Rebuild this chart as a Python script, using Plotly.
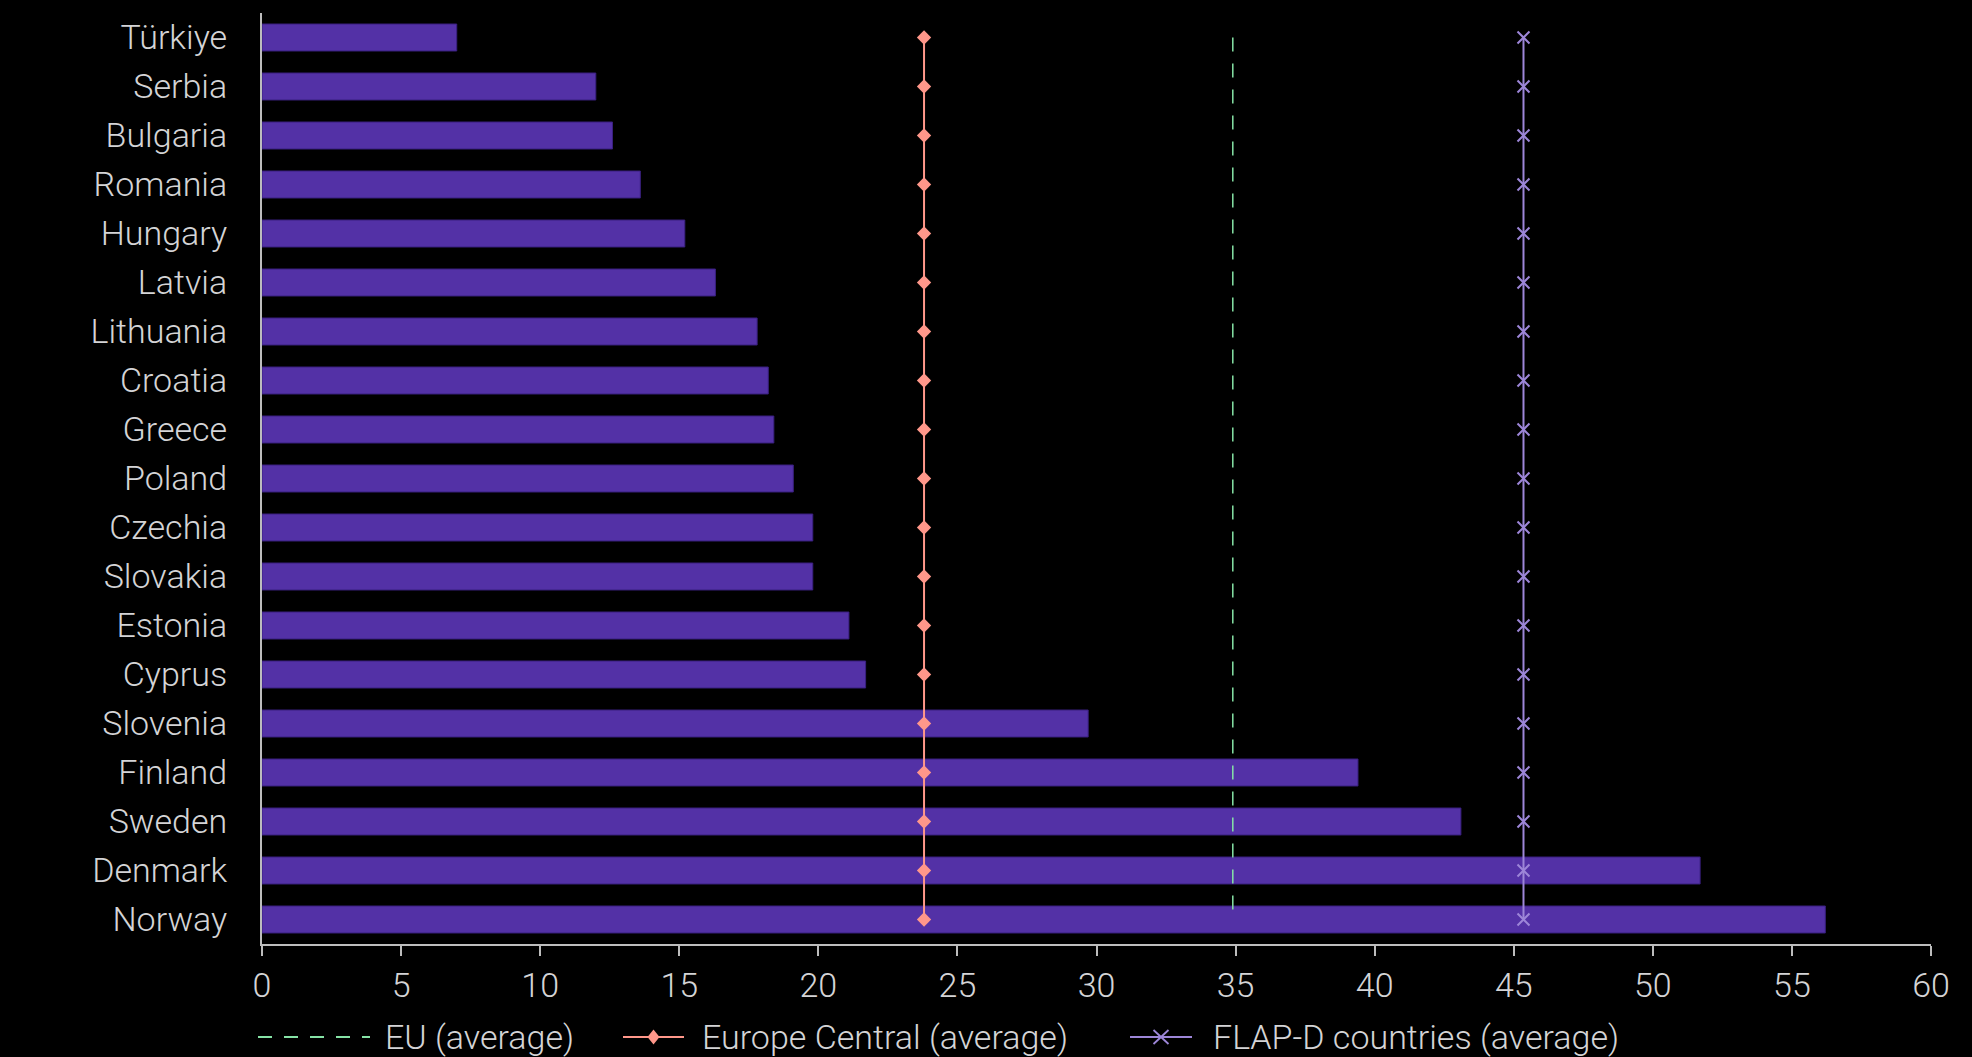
import plotly.graph_objects as go

# Countries, top to bottom
countries = [
    "Türkiye", "Serbia", "Bulgaria", "Romania", "Hungary", "Latvia",
    "Lithuania", "Croatia", "Greece", "Poland", "Czechia", "Slovakia",
    "Estonia", "Cyprus", "Slovenia", "Finland", "Sweden", "Denmark", "Norway",
]
values = [
    7.0, 12.0, 12.6, 13.6, 15.2, 16.3,
    17.8, 18.2, 18.4, 19.1, 19.8, 19.8,
    21.1, 21.7, 29.7, 39.4, 43.1, 51.7, 56.2,
]

# Reference averages
eu_average = 34.9
europe_central_average = 23.8
flapd_average = 45.35

x_ticks = [0, 5, 10, 15, 20, 25, 30, 35, 40, 45, 50, 55, 60]

FONT = "Roboto, 'Liberation Sans', sans-serif"
FONT_SIZE = 34
TEXT_COLOR = "#d4d4d6"
AXIS_COLOR = "#bdbdbd"

BAR_COLOR = "#5331a6"
EU_COLOR = "#86e3a6"
EC_COLOR = "#ff978a"
FLAPD_COLOR = "#9d86d8"
DASH = "14px,12px"

# Figure geometry (pixels)
W, H = 1972, 1057
M_L, M_R, M_T, M_B = 262, 41, 13, 113
PLOT_W = W - M_L - M_R
PLOT_H = H - M_T - M_B

fig = go.Figure()

fig.add_trace(go.Bar(
    y=countries,
    x=values,
    orientation="h",
    marker=dict(color=BAR_COLOR, line=dict(color="#3a2080", width=1)),
    showlegend=False,
    hoverinfo="x+y",
))

fig.add_trace(go.Scatter(
    y=countries,
    x=[eu_average] * len(countries),
    mode="lines",
    name="EU (average)",
    line=dict(color=EU_COLOR, width=1.5, dash=DASH),
    showlegend=False,
))

fig.add_trace(go.Scatter(
    y=countries,
    x=[europe_central_average] * len(countries),
    mode="lines+markers",
    name="Europe Central (average)",
    line=dict(color=EC_COLOR, width=2),
    marker=dict(symbol="diamond", size=11, color=EC_COLOR),
    showlegend=False,
))

fig.add_trace(go.Scatter(
    y=countries,
    x=[flapd_average] * len(countries),
    mode="lines+markers",
    name="FLAP-D countries (average)",
    line=dict(color=FLAPD_COLOR, width=2),
    marker=dict(symbol="x-thin-open", size=12,
                line=dict(color=FLAPD_COLOR, width=2)),
    showlegend=False,
))


# Legend drawn below the axis: sample line, glyph and label per series
def px_x(px):
    return (px - M_L) / PLOT_W


def px_y(py):
    return (H - M_B - py) / PLOT_H


legend_y = 1037
legend_items = [
    # name, colour, dash, glyph path, line start, line end, label start
    ("EU (average)", EU_COLOR, DASH, None, 258, 370, 383),
    ("Europe Central (average)", EC_COLOR, "solid",
     "M0,7.5L6,0L0,-7.5L-6,0Z", 623, 684, 700),
    ("FLAP-D countries (average)", FLAPD_COLOR, "solid",
     "M-7.5,-7L7.5,7M-7.5,7L7.5,-7", 1130, 1192, 1211),
]

shapes = []
annotations = []
for name, color, dash, glyph, x0, x1, tx in legend_items:
    shapes.append(dict(
        type="line", xref="paper", yref="paper",
        x0=px_x(x0), x1=px_x(x1), y0=px_y(legend_y), y1=px_y(legend_y),
        line=dict(color=color, width=2, dash=dash),
        layer="above",
    ))
    if glyph:
        filled = glyph.endswith("Z")
        shapes.append(dict(
            type="path", xref="paper", yref="paper",
            xsizemode="pixel", ysizemode="pixel",
            xanchor=px_x((x0 + x1) / 2), yanchor=px_y(legend_y),
            path=glyph,
            fillcolor=color if filled else "rgba(0,0,0,0)",
            line=dict(color=color, width=0 if filled else 1.8),
            layer="above",
        ))
    annotations.append(dict(
        text=name, xref="paper", yref="paper",
        x=px_x(tx), y=px_y(legend_y),
        xanchor="left", yanchor="middle", showarrow=False,
        font=dict(family=FONT, size=FONT_SIZE, color=TEXT_COLOR, weight=300),
    ))

fig.update_layout(
    width=W,
    height=H,
    paper_bgcolor="#000000",
    plot_bgcolor="#000000",
    margin=dict(l=M_L, r=M_R, t=M_T, b=M_B),
    bargap=0.45,
    showlegend=False,
    font=dict(family=FONT, size=FONT_SIZE, color=TEXT_COLOR, weight=300),
    shapes=shapes,
    annotations=annotations,
    xaxis=dict(
        range=[0, 60],
        tickvals=x_ticks,
        ticks="outside",
        ticklen=10,
        tickwidth=2,
        tickcolor=AXIS_COLOR,
        showline=True,
        linecolor=AXIS_COLOR,
        linewidth=2,
        showgrid=False,
        zeroline=False,
        tickfont=dict(family=FONT, size=FONT_SIZE, color=TEXT_COLOR, weight=300),
    ),
    yaxis=dict(
        range=[len(countries) - 0.5, -0.5],
        showline=True,
        linecolor=AXIS_COLOR,
        linewidth=2,
        showgrid=False,
        zeroline=False,
        ticks="",
        ticklabelstandoff=26,
        tickfont=dict(family=FONT, size=FONT_SIZE, color=TEXT_COLOR, weight=300),
    ),
)

fig.write_html("out.html")
